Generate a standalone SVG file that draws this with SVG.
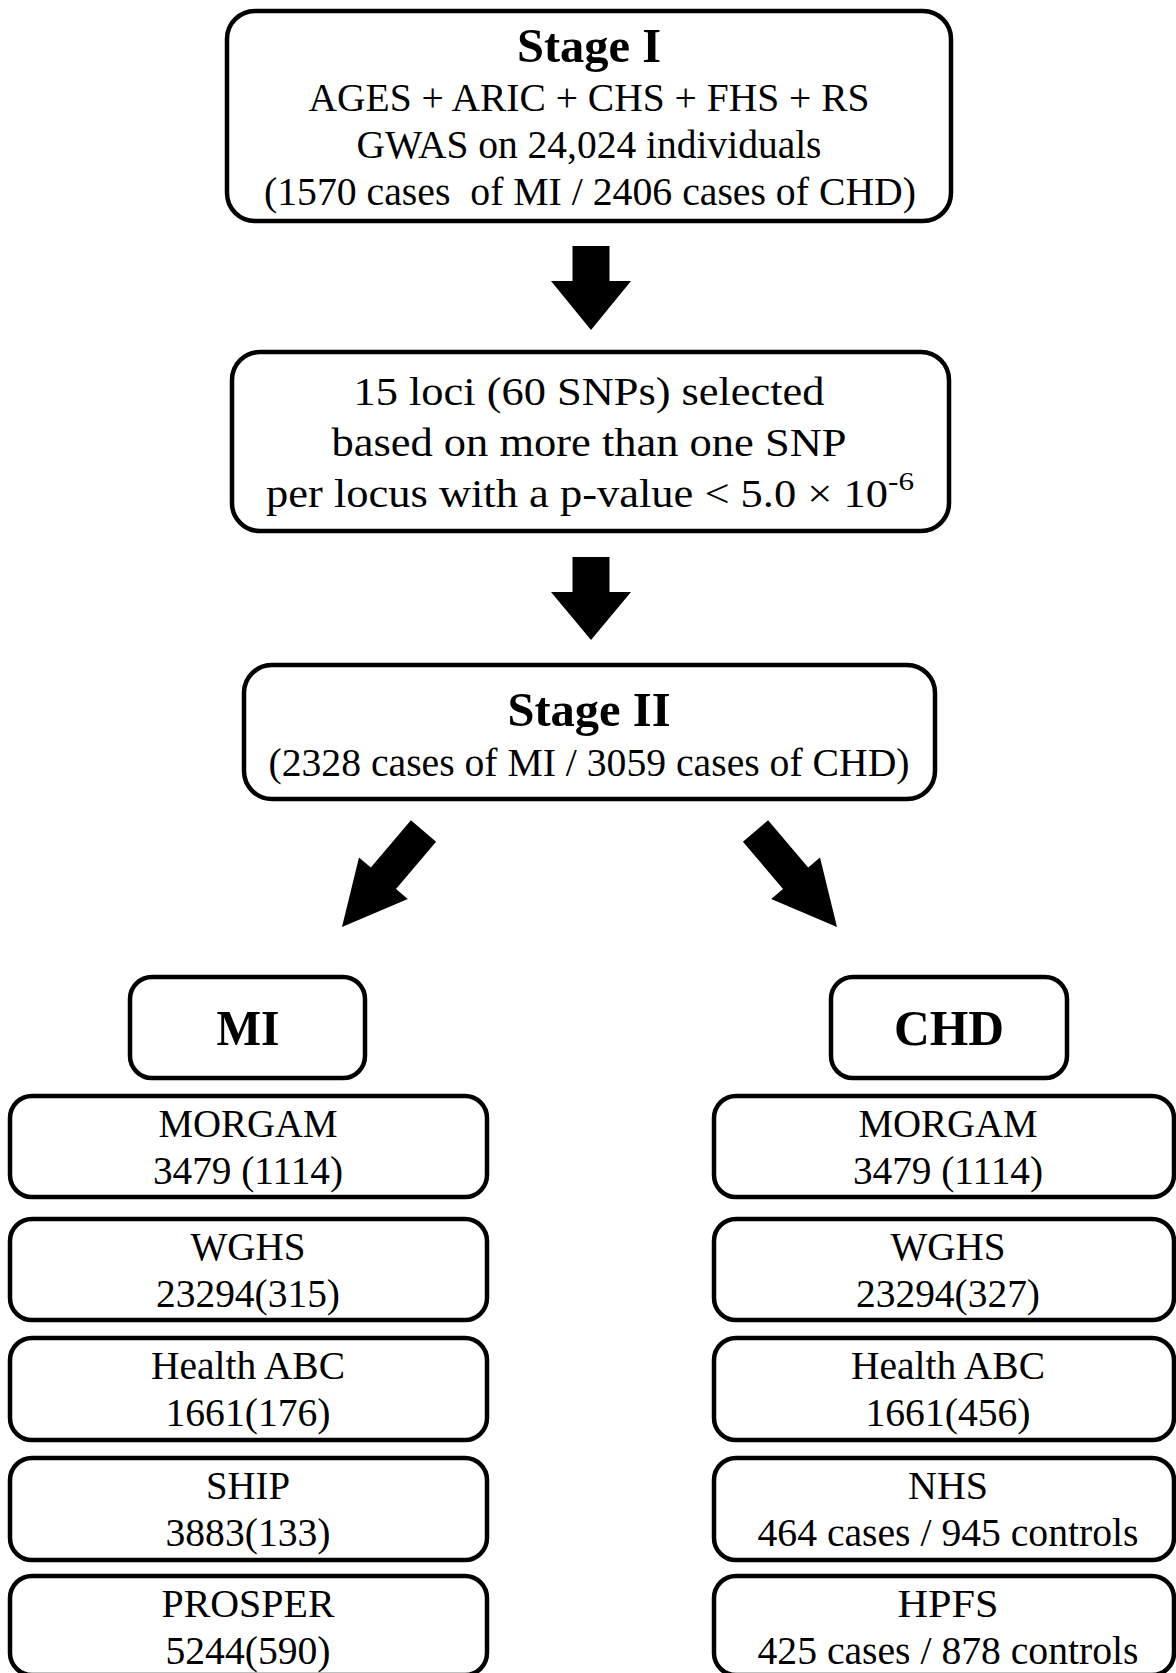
<svg xmlns="http://www.w3.org/2000/svg" width="1176" height="1673" viewBox="0 0 1176 1673">
<style>
  .box { fill: #ffffff; stroke: #000000; stroke-width: 4.5; }
  text { font-family: 'Liberation Serif', 'Times New Roman', Times, serif; fill: #000000; text-anchor: middle; }
  .t { font-size: 40px; }
  .b { font-size: 48px; font-weight: bold; }
  .h { font-size: 50px; font-weight: bold; }
  .sup { font-size: 26px; }
  .arrow { fill: #000000; stroke: none; }
</style>
<defs>
  <path id="diag" d="M-16.5,0 H16.5 V62 H32 L0,126 L-32,62 H-16.5 Z"/>
</defs>
<rect width="1176" height="1673" fill="#ffffff"/>

<g id="connectors">
  <path class="arrow" d="M572.5,246 H609.5 V281 H631 L591,330 L551,281 H572.5 Z"/>
  <path class="arrow" d="M572.5,557 H609.5 V592 H631 L591,640 L551,592 H572.5 Z"/>
  <use class="arrow" href="#diag" transform="translate(423.5,831) rotate(40.3)"/>
  <use class="arrow" href="#diag" transform="translate(755.5,831) rotate(-40.3)"/>
</g>

<g id="stage1">
  <rect class="box" x="227" y="11" width="724" height="210" rx="28"/>
  <text class="b" x="589" y="62" textLength="144" lengthAdjust="spacingAndGlyphs">Stage I</text>
  <text class="t" x="589" y="111" textLength="561" lengthAdjust="spacingAndGlyphs">AGES + ARIC + CHS + FHS + RS</text>
  <text class="t" x="589" y="158" textLength="465" lengthAdjust="spacingAndGlyphs">GWAS on 24,024 individuals</text>
  <text class="t" x="590" y="205" textLength="652" lengthAdjust="spacingAndGlyphs" xml:space="preserve">(1570 cases  of MI / 2406 cases of CHD)</text>
</g>

<g id="loci">
  <rect class="box" x="232" y="352" width="717" height="179" rx="28"/>
  <text class="t" x="589" y="405" textLength="471" lengthAdjust="spacingAndGlyphs">15 loci (60 SNPs) selected</text>
  <text class="t" x="589" y="456" textLength="515" lengthAdjust="spacingAndGlyphs">based on more than one SNP</text>
  <text class="t" x="577" y="507" textLength="622" lengthAdjust="spacingAndGlyphs">per locus with a p-value &lt; 5.0 × 10</text>
  <text class="sup" x="901" y="490" textLength="26" lengthAdjust="spacingAndGlyphs">-6</text>
</g>

<g id="stage2">
  <rect class="box" x="244" y="665" width="691" height="134" rx="28"/>
  <text class="b" x="589" y="726" textLength="163" lengthAdjust="spacingAndGlyphs">Stage II</text>
  <text class="t" x="589" y="776" textLength="641" lengthAdjust="spacingAndGlyphs">(2328 cases of MI / 3059 cases of CHD)</text>
</g>

<g id="mi">
  <rect class="box" x="130" y="977" width="235" height="101" rx="22"/>
  <text class="h" x="248" y="1045" textLength="63" lengthAdjust="spacingAndGlyphs">MI</text>
</g>

<g id="chd">
  <rect class="box" x="831" y="977" width="236" height="101" rx="22"/>
  <text class="h" x="949" y="1045" textLength="110" lengthAdjust="spacingAndGlyphs">CHD</text>
</g>

<g id="mi-morgam">
  <rect class="box" x="10" y="1096" width="477" height="101" rx="22"/>
  <text class="t" x="248" y="1137" textLength="179" lengthAdjust="spacingAndGlyphs">MORGAM</text>
  <text class="t" x="248" y="1184" textLength="190" lengthAdjust="spacingAndGlyphs">3479 (1114)</text>
</g>
<g id="mi-wghs">
  <rect class="box" x="10" y="1219" width="477" height="101" rx="22"/>
  <text class="t" x="248" y="1260" textLength="115" lengthAdjust="spacingAndGlyphs">WGHS</text>
  <text class="t" x="248" y="1307" textLength="184" lengthAdjust="spacingAndGlyphs">23294(315)</text>
</g>
<g id="mi-healthabc">
  <rect class="box" x="10" y="1338" width="477" height="102" rx="22"/>
  <text class="t" x="248" y="1379" textLength="194" lengthAdjust="spacingAndGlyphs">Health ABC</text>
  <text class="t" x="248" y="1426" textLength="165" lengthAdjust="spacingAndGlyphs">1661(176)</text>
</g>
<g id="mi-ship">
  <rect class="box" x="10" y="1458" width="477" height="102" rx="22"/>
  <text class="t" x="248" y="1499" textLength="84" lengthAdjust="spacingAndGlyphs">SHIP</text>
  <text class="t" x="248" y="1546" textLength="165" lengthAdjust="spacingAndGlyphs">3883(133)</text>
</g>
<g id="mi-prosper">
  <rect class="box" x="10" y="1576" width="477" height="99" rx="22"/>
  <text class="t" x="248" y="1617" textLength="173" lengthAdjust="spacingAndGlyphs">PROSPER</text>
  <text class="t" x="248" y="1664" textLength="165" lengthAdjust="spacingAndGlyphs">5244(590)</text>
</g>

<g id="chd-morgam">
  <rect class="box" x="714" y="1096" width="460" height="101" rx="22"/>
  <text class="t" x="948" y="1137" textLength="179" lengthAdjust="spacingAndGlyphs">MORGAM</text>
  <text class="t" x="948" y="1184" textLength="190" lengthAdjust="spacingAndGlyphs">3479 (1114)</text>
</g>
<g id="chd-wghs">
  <rect class="box" x="714" y="1219" width="460" height="101" rx="22"/>
  <text class="t" x="948" y="1260" textLength="115" lengthAdjust="spacingAndGlyphs">WGHS</text>
  <text class="t" x="948" y="1307" textLength="184" lengthAdjust="spacingAndGlyphs">23294(327)</text>
</g>
<g id="chd-healthabc">
  <rect class="box" x="714" y="1338" width="460" height="102" rx="22"/>
  <text class="t" x="948" y="1379" textLength="194" lengthAdjust="spacingAndGlyphs">Health ABC</text>
  <text class="t" x="948" y="1426" textLength="165" lengthAdjust="spacingAndGlyphs">1661(456)</text>
</g>
<g id="chd-nhs">
  <rect class="box" x="714" y="1458" width="460" height="102" rx="22"/>
  <text class="t" x="948" y="1499" textLength="80" lengthAdjust="spacingAndGlyphs">NHS</text>
  <text class="t" x="948" y="1546" textLength="381" lengthAdjust="spacingAndGlyphs">464 cases / 945 controls</text>
</g>
<g id="chd-hpfs">
  <rect class="box" x="714" y="1576" width="460" height="99" rx="22"/>
  <text class="t" x="948" y="1617" textLength="101" lengthAdjust="spacingAndGlyphs">HPFS</text>
  <text class="t" x="948" y="1664" textLength="381" lengthAdjust="spacingAndGlyphs">425 cases / 878 controls</text>
</g>
</svg>
